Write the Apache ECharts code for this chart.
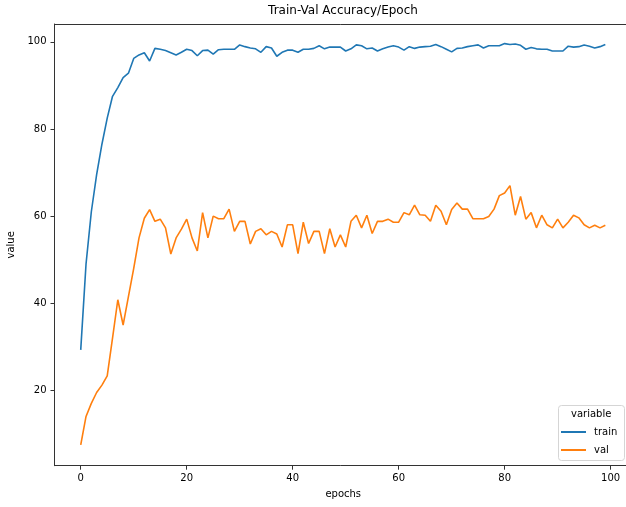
<!DOCTYPE html>
<html>
<head>
<meta charset="utf-8">
<script src="https://cdn.jsdelivr.net/npm/echarts@6/dist/echarts.min.js"></script>
<style>
  html, body { margin: 0; padding: 0; background: #fff; }
  #main { width: 626px; height: 507px; }
</style>
</head>
<body>
<div id="main"></div>
<script>
// epochs 0..99
var epochs = Array.from({ length: 100 }, function (_, i) { return i; });

var train = [
  29.3, 49, 61, 69.5, 76.5, 82.5, 87.5, 89.5, 91.8, 92.8,
  96.2, 97, 97.5, 95.6, 98.5, 98.3, 98, 97.5, 97, 97.6,
  98.3, 98, 96.8, 98, 98.1, 97.2, 98.2, 98.3, 98.3, 98.3,
  99.3, 98.9, 98.6, 98.4, 97.6, 98.9, 98.6, 96.7, 97.6, 98.1,
  98.1, 97.6, 98.3, 98.3, 98.5, 99.1, 98.4, 98.8, 98.8, 98.8,
  97.9, 98.4, 99.3, 99.1, 98.4, 98.6, 97.9, 98.4, 98.8, 99.1,
  98.8, 98.1, 98.9, 98.5, 98.8, 98.9, 99.0, 99.4, 98.9, 98.3,
  97.7, 98.5, 98.6, 98.9, 99.1, 99.3, 98.6, 99.1, 99.1, 99.1,
  99.6, 99.4, 99.5, 99.2, 98.3, 98.7, 98.4, 98.3, 98.3, 97.9,
  97.9, 97.9, 99.0, 98.8, 98.9, 99.3, 99.0, 98.6, 98.9, 99.4
];

var val = [
  7.5, 14, 17, 19.5, 21.2, 23.3, 32, 40.8, 35, 41.5,
  48, 55, 59.5, 61.5, 58.8, 59.3, 57.3, 51.3, 55, 57,
  59.3, 55, 52, 60.8, 55, 60, 59.4, 59.4, 61.6, 56.5,
  58.8, 58.8, 53.6, 56.5, 57.1, 55.7, 56.5, 55.9, 52.9, 58,
  58, 51.4, 58.6, 53.7, 56.5, 56.5, 51.4, 57.1, 52.9, 55.7,
  52.9, 58.8, 60.2, 57.3, 60.2, 56, 58.8, 58.8, 59.3, 58.6,
  58.6, 60.8, 60.3, 62.5, 60.3, 60.2, 58.8, 62.5, 61.1, 58,
  61.5, 63, 61.6, 61.6, 59.4, 59.4, 59.4, 59.9, 61.6, 64.7,
  65.3, 67, 60.2, 64.5, 59.3, 60.8, 57.3, 60.2, 58, 57.3,
  59.3, 57.3, 58.6, 60.2, 59.6, 58, 57.3, 57.9, 57.3, 57.9
];

var xTicks = [0, 20, 40, 60, 80, 100];
var yTicks = [20, 40, 60, 80, 100];

function pairs(ys) {
  return epochs.map(function (e, i) { return [e, ys[i]]; });
}

var font = 'DejaVu Sans';
var spine = { show: true, onZero: false, lineStyle: { color: '#333', width: 1 } };

var chart = echarts.init(document.getElementById('main'));
chart.setOption({
  animation: false,
  backgroundColor: '#fff',
  textStyle: { fontFamily: font },
  title: {
    text: 'Train-Val Accuracy/Epoch',
    left: 343,
    textAlign: 'center',
    top: 5,
    padding: 0,
    textStyle: { fontFamily: font, fontSize: 12, fontWeight: 'normal', color: '#000' }
  },
  // the plot area runs off the right edge of the picture
  grid: {
    left: 54.5, top: 24, right: 0, bottom: 41.3,
    show: false, containLabel: false, outerBoundsMode: 'none'
  },
  legend: {
    orient: 'vertical',
    left: 561, top: 426,
    padding: 0,
    z: 20,
    itemGap: 6,
    itemWidth: 25, itemHeight: 2,
    icon: 'rect',
    textStyle: { fontFamily: font, fontSize: 10, color: '#000', lineHeight: 12, padding: [0, 0, 0, 3] },
    data: ['train', 'val']
  },
  graphic: [
    {
      type: 'rect', left: 558, top: 405, z: 1,
      shape: { width: 66, height: 55, r: 3 },
      style: { fill: 'rgba(255,255,255,0.8)', stroke: '#d5d5d5', lineWidth: 1 }
    },
    {
      type: 'text', left: 571, top: 409, z: 2,
      style: { text: 'variable', fontFamily: font, fontSize: 10, fill: '#000' }
    }
  ],
  xAxis: [
    {
      type: 'value',
      min: -4.95, max: 102.9,
      name: 'epochs', nameLocation: 'middle', nameGap: 24,
      nameTextStyle: { fontFamily: font, fontSize: 10, color: '#000', padding: [0, 0, 0, 6] },
      axisLine: spine,
      axisTick: { show: true, length: 4, customValues: xTicks, lineStyle: { color: '#333' } },
      axisLabel: { customValues: xTicks, margin: 8, fontFamily: font, fontSize: 10, color: '#000' },
      splitLine: { show: false }
    },
    {
      // top spine
      type: 'value', position: 'top',
      min: -4.95, max: 102.9,
      axisLine: spine,
      axisTick: { show: false },
      axisLabel: { show: false },
      splitLine: { show: false }
    }
  ],
  yAxis: {
    type: 'value',
    min: 2.7, max: 104.1,
    name: 'value', nameLocation: 'middle', nameGap: 38,
    nameTextStyle: { fontFamily: font, fontSize: 10, color: '#000' },
    axisLine: spine,
    axisTick: { show: true, length: 4, customValues: yTicks, lineStyle: { color: '#333' } },
    axisLabel: { customValues: yTicks, margin: 8, fontFamily: font, fontSize: 10, color: '#000' },
    splitLine: { show: false }
  },
  series: [
    {
      name: 'train', type: 'line', data: pairs(train),
      showSymbol: false, symbol: 'none',
      lineStyle: { color: '#1f77b4', width: 1.6 },
      itemStyle: { color: '#1f77b4' }
    },
    {
      name: 'val', type: 'line', data: pairs(val),
      showSymbol: false, symbol: 'none',
      lineStyle: { color: '#ff7f0e', width: 1.6 },
      itemStyle: { color: '#ff7f0e' }
    }
  ]
});
</script>
</body>
</html>
